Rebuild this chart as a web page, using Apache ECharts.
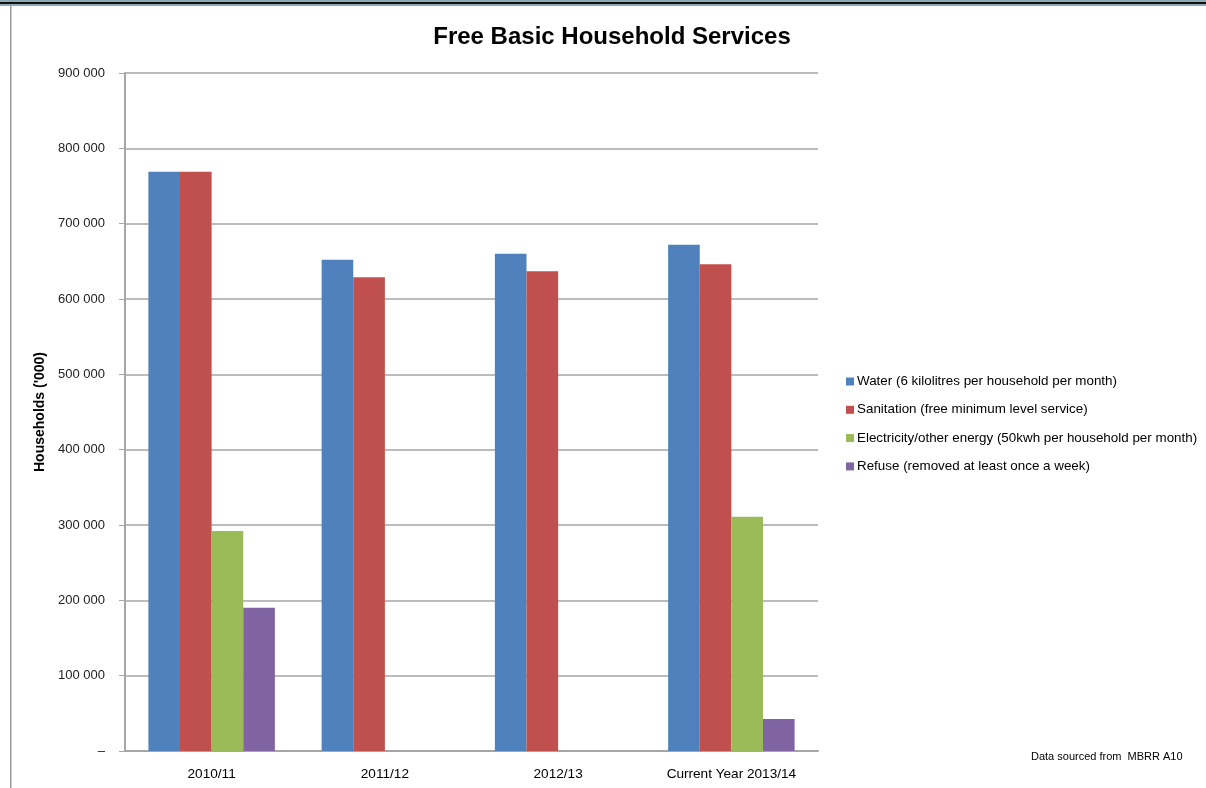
<!DOCTYPE html>
<html><head><meta charset="utf-8">
<script src="https://cdn.jsdelivr.net/npm/echarts@6/dist/echarts.min.js"></script>
<style>html,body{margin:0;padding:0;background:#fff}#c{width:1206px;height:788px}</style>
</head><body><div id="c"></div>
<script>
const categories = ['2010/11', '2011/12', '2012/13', 'Current Year 2013/14'];
const seriesNames = [
  'Water (6 kilolitres per household per month)',
  'Sanitation (free minimum level service)',
  'Electricity/other energy (50kwh per household per month)',
  'Refuse (removed at least once a week)'
];
const water = [769000, 652000, 660000, 672000];
const sanitation = [769000, 629000, 637000, 646000];
const electricity = [292000, null, null, 311000];
const refuse = [190000, null, null, 42500];
const colors = ['#4f81bd', '#c0504d', '#9bbb59', '#8064a2'];
const yTicks = { min: 0, max: 900000, interval: 100000 };

const font = 'Liberation Sans, Arial, sans-serif';
const chart = echarts.init(document.getElementById('c'));
const dataSets = [water, sanitation, electricity, refuse];
chart.setOption({
  animation: false,
  backgroundColor: '#fff',
  title: {
    text: 'Free Basic Household Services',
    left: 607, top: 20, textAlign: 'center',
    textStyle: { fontFamily: font, fontWeight: 'bold', fontSize: 24, color: '#000' }
  },
  grid: { left: 125, right: 388, top: 73, bottom: 37, containLabel: false },
  legend: {
    orient: 'vertical', left: 841, top: 370,
    itemWidth: 8, itemHeight: 8, itemGap: 15.3, icon: 'rect',
    textStyle: { fontFamily: font, fontSize: 13.4, color: '#000', padding: [0, 0, 0, -2] },
    data: seriesNames
  },
  xAxis: {
    type: 'category', data: categories,
    axisLine: { lineStyle: { color: '#a6a6a6', width: 2 } },
    axisTick: { show: false },
    axisLabel: { fontFamily: font, fontSize: 13.6, color: '#000', margin: 16 }
  },
  yAxis: {
    type: 'value', min: yTicks.min, max: yTicks.max, interval: yTicks.interval,
    name: "Households ('000)", nameLocation: 'middle', nameGap: 73, nameRotate: 90,
    nameTextStyle: { fontFamily: font, fontWeight: 'bold', fontSize: 14, color: '#000' },
    axisLine: { show: true, lineStyle: { color: '#a6a6a6', width: 2 } },
    axisTick: { show: true, length: 6, lineStyle: { color: '#a6a6a6' } },
    splitLine: { lineStyle: { color: '#a6a6a6', width: 1.5 } },
    axisLabel: {
      fontFamily: font, fontSize: 13, color: '#222', margin: 20,
      formatter: v => v === 0 ? '–' : String(v).replace(/\B(?=(\d{3})+(?!\d))/g, ' ')
    }
  },
  series: dataSets.map((d, i) => ({
    name: seriesNames[i], type: 'bar', data: d,
    barGap: '0%', barCategoryGap: '27%',
    itemStyle: { color: colors[i] }
  })),
  graphic: [
    { type: 'rect', shape: { x: 0, y: 0, width: 1206, height: 2 }, style: { fill: '#8fa9b1' } },
    { type: 'rect', shape: { x: 0, y: 2, width: 1206, height: 2 }, style: { fill: '#111' } },
    { type: 'rect', shape: { x: 0, y: 4, width: 1206, height: 2 }, style: { fill: '#8fa9b1' } },
    { type: 'rect', shape: { x: 10, y: 6, width: 1.5, height: 782 }, style: { fill: '#999' } },
    { type: 'text', left: 1031, top: 751, style: { text: 'Data sourced from  MBRR A10', font: '11px Liberation Sans, Arial', fill: '#000' } }
  ]
});
</script></body></html>
